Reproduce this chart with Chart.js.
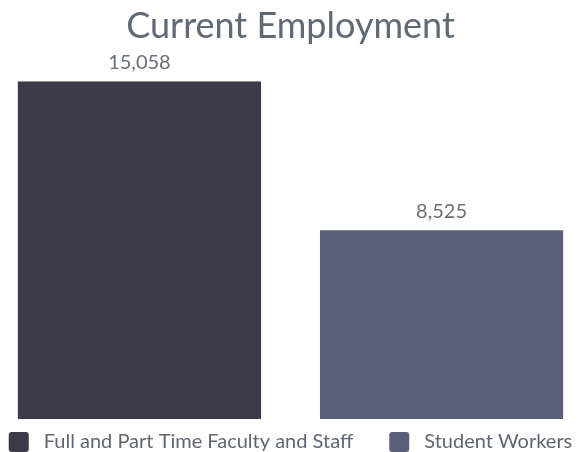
<!DOCTYPE html>
<html lang="en">
<head>
    <meta charset="UTF-8">
    <title>Current Employment</title>
    <script src="https://cdn.jsdelivr.net/npm/chart.js"></script>
    <style>
        html, body {
            margin: 0;
            padding: 0;
            background-color: #ffffff;
        }
        .grafico-container {
            width: 586px;
            height: 452px;
            position: relative;
        }
    </style>
</head>
<body>

<div class="grafico-container">
    <canvas id="graficoEmpleo"></canvas>
</div>

<script>
    const categories = [''];
    const seriesNames = ['Full and Part Time Faculty and Staff', 'Student Workers'];
    const facultyStaff = [15058];
    const studentWorkers = [8525];

    const barColors = ['#3c3948', '#5a6079'];

    // draws the value above each bar
    const valueLabels = {
        id: 'valueLabels',
        afterDatasetsDraw(chart) {
            const ctx = chart.ctx;
            ctx.save();
            ctx.font = '20px Lato';
            ctx.fillStyle = '#6a6f76';
            ctx.textAlign = 'center';
            ctx.textBaseline = 'bottom';
            chart.data.datasets.forEach((ds, i) => {
                const meta = chart.getDatasetMeta(i);
                meta.data.forEach((bar, j) => {
                    ctx.fillText(ds.data[j].toLocaleString('en-US'), bar.x, bar.y - 9);
                });
            });
            ctx.restore();
        }
    };

    const ctx = document.getElementById('graficoEmpleo').getContext('2d');
    new Chart(ctx, {
        type: 'bar',
        data: {
            labels: categories,
            datasets: [
                { label: seriesNames[0], data: facultyStaff, backgroundColor: barColors[0] },
                { label: seriesNames[1], data: studentWorkers, backgroundColor: barColors[1] }
            ]
        },
        options: {
            responsive: true,
            maintainAspectRatio: false,
            animation: false,
            categoryPercentage: 1.04,
            barPercentage: 0.805,
            layout: { padding: { left: 0, right: 5, top: 0, bottom: -10 } },
            scales: {
                x: {
                    display: true,
                    grid: { display: false, drawTicks: true, tickLength: 12 },
                    border: { display: false },
                    ticks: { display: false }
                },
                y: { display: false, min: 240, max: 15058 }
            },
            plugins: {
                title: {
                    display: true,
                    text: 'Current Employment',
                    color: '#5f6a76',
                    font: { family: 'Lato', size: 36, weight: 'normal' },
                    padding: { top: 5, bottom: 33 }
                },
                legend: {
                    position: 'bottom',
                    labels: {
                        color: '#5f6670',
                        font: { family: 'Lato', size: 20 },
                        boxWidth: 20,
                        boxHeight: 20,
                        useBorderRadius: true,
                        borderRadius: 3,
                        padding: 1,
                        generateLabels(chart) {
                            const items = Chart.defaults.plugins.legend.labels.generateLabels(chart);
                            items.forEach((it, i) => {
                                it.text = '\u2005' + it.text;
                                if (i < items.length - 1) it.text = it.text + '\u2003\u2003\u2005';
                            });
                            return items;
                        }
                    }
                },
                tooltip: { enabled: false }
            }
        },
        plugins: [valueLabels]
    });
</script>

</body>
</html>
